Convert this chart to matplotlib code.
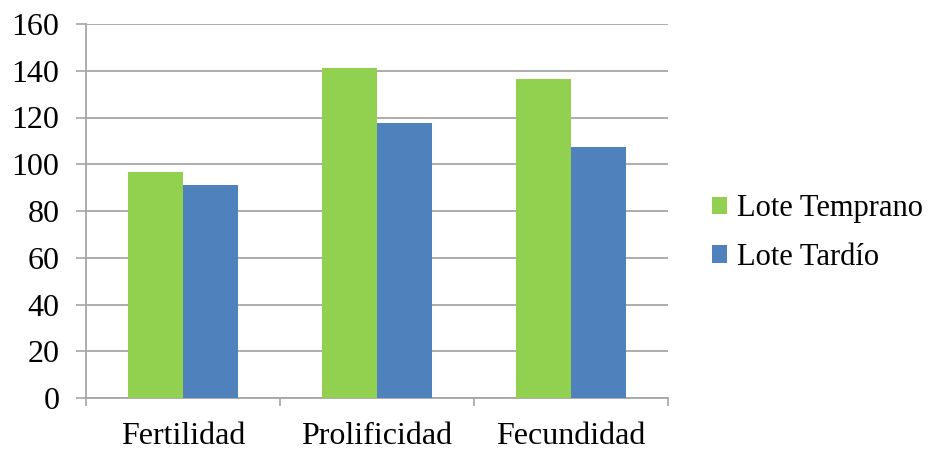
import matplotlib
matplotlib.use('Agg')
import matplotlib.pyplot as plt
import numpy as np

plt.rcParams['font.family'] = ['Liberation Serif', 'DejaVu Serif']

categories = ['Fertilidad', 'Prolificidad', 'Fecundidad']
temprano = [96.7, 141.0, 136.5]
tardio = [91.3, 117.5, 107.5]
series_names = ['Lote Temprano', 'Lote Tardío']
yticks = [0, 20, 40, 60, 80, 100, 120, 140, 160]

green = '#92D050'
blue = '#4F81BD'
grid_c = '#A6A6A6'

fig = plt.figure(figsize=(9.34, 4.49), dpi=100)
ax = fig.add_axes([86/934, 1-398/449, (668-86)/934, (398-24)/449])

x = np.arange(len(categories))
w = 0.284
ax.bar(x - w/2, temprano, w, color=green, label=series_names[0], zorder=3)
ax.bar(x + w/2, tardio, w, color=blue, label=series_names[1], zorder=3)

ax.set_xlim(-0.5, len(categories) - 0.5)
ax.set_ylim(0, 160)
ax.set_yticks(yticks)
ax.yaxis.grid(True, color=grid_c, lw=1.3, zorder=0)
ax.set_axisbelow(True)

# category boundaries as major ticks, labels on minor ticks
ax.set_xticks(np.arange(len(categories) + 1) - 0.5)
ax.set_xticklabels([])
ax.set_xticks(x, minor=True)
ax.set_xticklabels(categories, minor=True)
ax.tick_params(axis='x', which='major', length=6, width=1.2, color=grid_c)
ax.tick_params(axis='x', which='minor', length=0, labelsize=23, pad=17)
ax.tick_params(axis='y', length=7, width=1.2, color=grid_c, labelsize=23, pad=12)

for s in ['top', 'right']:
    ax.spines[s].set_visible(False)
for s in ['left', 'bottom']:
    ax.spines[s].set_color(grid_c)
    ax.spines[s].set_linewidth(1.3)

leg = fig.legend(loc='center left', bbox_to_anchor=(684/934, 1-233/449),
                 frameon=False, fontsize=22, handlelength=0.5, handleheight=0.5,
                 handletextpad=0.35, labelspacing=0.65)

fig.savefig('out.png', dpi=100)
